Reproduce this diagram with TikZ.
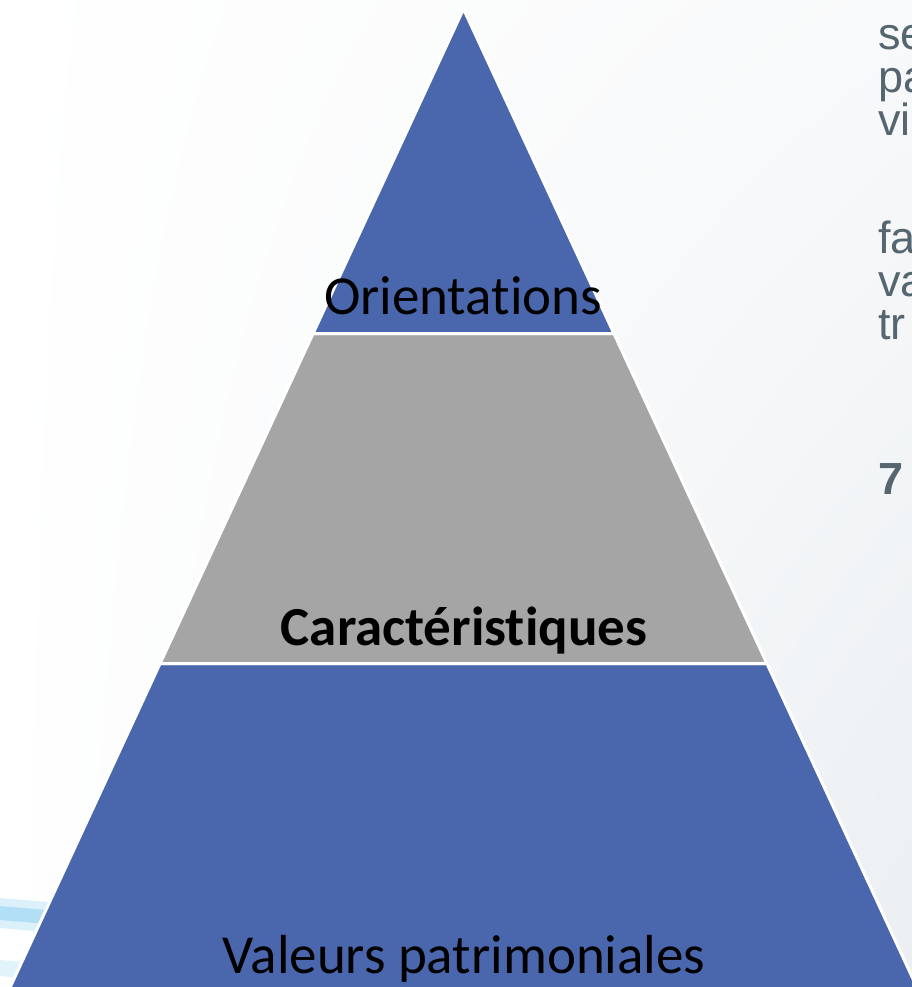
\documentclass[tikz,border=0pt]{standalone}
\usepackage{fontspec}
\usetikzlibrary{shadings,calc}
\setmainfont[Ligatures=NoCommon]{Carlito}
\newfontfamily\arialfont{Liberation Sans}
\definecolor{pyrblue}{RGB}{74,102,172}
\definecolor{pyrgray}{RGB}{165,165,165}
\definecolor{sidetext}{RGB}{86,102,112}
\definecolor{bgcorner}{RGB}{235,239,242}
\definecolor{bgmid}{RGB}{248,249,250}
\definecolor{swoosh}{RGB}{140,208,242}
\begin{document}
\begin{tikzpicture}[x=1pt,y=-1pt,
  level/.style={draw=white,line width=3pt,line join=miter},
  pyrlabel/.style={anchor=base,inner sep=0pt,font=\fontsize{55}{60}\selectfont,text=black},
  sidelabel/.style={anchor=base west,inner sep=0pt,font=\arialfont\fontsize{45}{50}\selectfont,text=sidetext}]
\useasboundingbox (0,0) rectangle (912,987);
\clip (0,0) rectangle (912,987);
% background
\shade[upper left=white,upper right=bgmid,lower left=white,lower right=bgcorner] (0,0) rectangle (912,987);
% swooshes bottom-left
\fill[swoosh,opacity=0.3] (0,898) -- (70,904) -- (70,934) -- (0,928) -- cycle;
\fill[swoosh,opacity=0.5] (0,906) -- (70,912) -- (70,926) -- (0,920) -- cycle;
\fill[swoosh,opacity=0.25] (0,960) -- (70,966) -- (70,982) -- (0,976) -- cycle;
% pyramid
\coordinate (apex) at (463.5,9);
\coordinate (l1) at (313.1,333.5);
\coordinate (r1) at (613.9,333.5);
\coordinate (l2) at (160.1,663.5);
\coordinate (r2) at (766.9,663.5);
\coordinate (l3) at (10.2,987);
\coordinate (r3) at (916.8,987);
\filldraw[level,fill=pyrblue] (l2) -- (r2) -- ($(r3)+(9.2,20)$) -- ($(l3)+(-9.2,20)$) -- cycle;
\filldraw[level,fill=pyrgray] (l1) -- (r1) -- (r2) -- (l2) -- cycle;
\filldraw[level,fill=pyrblue] (apex) -- (r1) -- (l1) -- cycle;
% labels
\node[pyrlabel] (orient) at (463,314) {Orientations};
\node[pyrlabel,font=\bfseries\fontsize{55}{60}\selectfont] (carac) at (464,645) {Caractéristiques};
\node[pyrlabel] (valeurs) at (464,973) {Valeurs patrimoniales};
% side text (cut off at right edge)
\node[sidelabel] (t1) at (878,50) {se};
\node[sidelabel] (t2) at (878,93) {pa};
\node[sidelabel] (t3) at (878,136) {vi};
\node[sidelabel] (t4) at (878,253) {fa};
\node[sidelabel] (t5) at (878,296) {va};
\node[sidelabel] (t6) at (878,339) {tr};
\node[sidelabel,font=\arialfont\bfseries\fontsize{45}{50}\selectfont] (t7) at (878,494) {7};
\end{tikzpicture}
\end{document}
